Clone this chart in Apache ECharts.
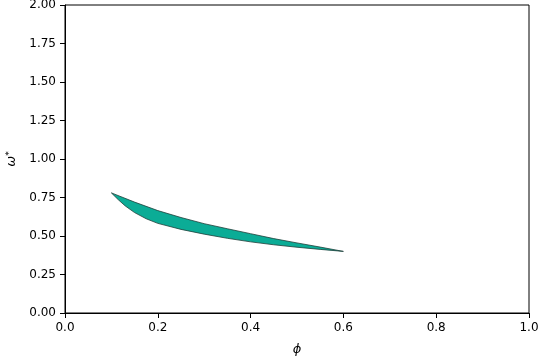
<!DOCTYPE html>
<html>
<head>
<meta charset="utf-8">
<script src="https://cdn.jsdelivr.net/npm/echarts@6/dist/echarts.min.js"></script>
<style>html,body{margin:0;padding:0;background:#fff}#c{width:540px;height:360px}</style>
</head>
<body>
<div id="c"></div>
<script>
// Data
var phiUpper = [0.10, 0.15, 0.20, 0.25, 0.30, 0.35, 0.40, 0.45, 0.50, 0.55, 0.60];
var omegaUpper = [0.78, 0.72, 0.665, 0.62, 0.58, 0.547, 0.515, 0.483, 0.455, 0.428, 0.40];
var phiLower = [0.10, 0.115, 0.13, 0.15, 0.175, 0.20, 0.25, 0.30, 0.35, 0.40, 0.45, 0.50, 0.55, 0.60];
var omegaLower = [0.78, 0.735, 0.695, 0.652, 0.612, 0.582, 0.543, 0.512, 0.485, 0.462, 0.443, 0.427, 0.413, 0.40];
var xTicks = [0.0, 0.2, 0.4, 0.6, 0.8, 1.0];
var yTicks = [0.00, 0.25, 0.50, 0.75, 1.00, 1.25, 1.50, 1.75, 2.00];

var polygonData = [];
for (var i = 0; i < phiUpper.length; i++) polygonData.push([phiUpper[i], omegaUpper[i]]);
for (var j = phiLower.length - 1; j >= 0; j--) polygonData.push([phiLower[j], omegaLower[j]]);

var chart = echarts.init(document.getElementById('c'), null, {renderer: 'canvas'});
var font = 'DejaVu Sans';
chart.setOption({
  animation: false,
  grid: {left: 65, right: 11, top: 5, bottom: 47, show: true, borderColor: '#000', borderWidth: 1,
         backgroundColor: 'transparent', containLabel: false, outerBoundsMode: 'none'},
  xAxis: {
    type: 'value', min: xTicks[0], max: xTicks[xTicks.length - 1], interval: 0.2,
    name: 'ϕ', nameLocation: 'middle', nameGap: 30,
    nameTextStyle: {fontFamily: font, fontSize: 13, fontStyle: 'italic', color: '#000'},
    axisLine: {show: true, onZero: false, lineStyle: {color: '#000', width: 1}},
    axisTick: {show: true, length: 5, lineStyle: {color: '#000'}},
    axisLabel: {fontFamily: font, fontSize: 12, color: '#000', margin: 9, formatter: function (v) { return v.toFixed(1); }},
    splitLine: {show: false}
  },
  yAxis: {
    type: 'value', min: yTicks[0], max: yTicks[yTicks.length - 1], interval: 0.25,
    name: '{a|ω}{b|*}', nameLocation: 'middle', nameGap: 45, nameRotate: 90,
    nameTextStyle: {fontFamily: font, fontSize: 13, color: '#000',
      rich: {
        a: {fontFamily: font, fontSize: 13, fontStyle: 'italic', color: '#000', verticalAlign: 'bottom'},
        b: {fontFamily: font, fontSize: 9, color: '#000', verticalAlign: 'top'}
      }},
    axisLine: {show: true, onZero: false, lineStyle: {color: '#000', width: 1}},
    axisTick: {show: true, length: 5, lineStyle: {color: '#000'}},
    axisLabel: {fontFamily: font, fontSize: 12, color: '#000', margin: 9, formatter: function (v) { return v.toFixed(2); }},
    splitLine: {show: false}
  },
  series: [{
    type: 'custom',
    coordinateSystem: 'cartesian2d',
    data: [0],
    renderItem: function (params, api) {
      var pts = polygonData.map(function (p) { return api.coord(p); });
      return {
        type: 'polygon',
        shape: {points: pts},
        style: {fill: '#0bac96', stroke: '#1f3f3a', lineWidth: 0.8}
      };
    }
  }]
});
</script>
</body>
</html>
